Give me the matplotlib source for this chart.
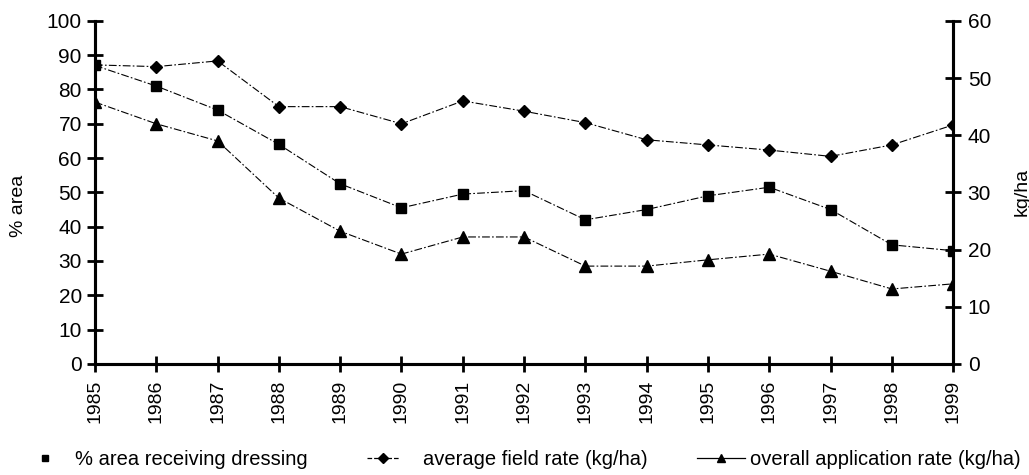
import numpy as np
import matplotlib
matplotlib.use('Agg')
import matplotlib.pyplot as plt

plt.rcParams['font.family'] = ['Liberation Sans', 'DejaVu Sans']

# 年份
years = [1985, 1986, 1987, 1988, 1989, 1990, 1991, 1992,
         1993, 1994, 1995, 1996, 1997, 1998, 1999]
# % area receiving dressing (left axis)
pct_area = [87, 81, 74, 64, 52.5, 45.5, 49.5, 50.5,
            42, 45, 49, 51.5, 45, 34.7, 33]
# average field rate kg/ha (right axis)
field_rate = [52.3, 52, 53, 45, 45, 42, 46, 44.2,
              42.2, 39.2, 38.3, 37.4, 36.3, 38.3, 41.8]
# overall application rate kg/ha (right axis)
overall_rate = [45.8, 42, 39, 29, 23.2, 19.2, 22.2, 22.2,
                17.1, 17.1, 18.2, 19.2, 16.2, 13.1, 14]

fig = plt.figure(figsize=(10.29, 4.75), dpi=100)
ax = fig.add_axes([0.0923, 0.234, 0.834, 0.722])
ax2 = ax.twinx()

dash = (0, (7, 2, 1.5, 2))
ax.plot(years, pct_area, color='black', lw=0.8, linestyle=dash,
        marker='s', markersize=7)
ax2.plot(years, field_rate, color='black', lw=0.8, linestyle=dash,
         marker='D', markersize=6)
ax2.plot(years, overall_rate, color='black', lw=0.8, linestyle=dash,
         marker='^', markersize=8)

ax.set_xlim(1985, 1999)
ax.set_ylim(0, 100)
ax2.set_ylim(0, 60)
ax.set_xticks(years)
ax.set_xticklabels([str(y) for y in years], rotation=90, fontsize=14)
ax.set_yticks(np.arange(0, 101, 10))
ax2.set_yticks(np.arange(0, 61, 10))
ax.tick_params(axis='y', labelsize=15, direction='inout', length=11, width=2, pad=4)
ax.tick_params(axis='x', direction='inout', length=11, width=2, pad=6)
ax2.tick_params(axis='y', labelsize=15, direction='inout', length=11, width=2, pad=5)

for a in (ax, ax2):
    a.spines['top'].set_visible(False)
    for s in ('left', 'right', 'bottom'):
        a.spines[s].set_linewidth(2.2)

ax.set_ylabel('% area', fontsize=14)
ax2.set_ylabel('kg/ha', fontsize=14)
ax.yaxis.set_label_coords(-0.079, 0.46)
ax2.yaxis.set_label_coords(1.070, 0.50)

# 图例，三项分开放
h1 = plt.Line2D([], [], color='black', marker='s', linestyle='none', markersize=5)
h2 = plt.Line2D([], [], color='black', marker='D', linestyle='--', lw=0.9, markersize=5)
h3 = plt.Line2D([], [], color='black', marker='^', linestyle='-', lw=0.9, markersize=6)
legend_items = [
    (h1, '% area receiving dressing', 0.034, 1.0, 1.0),
    (h2, 'average field rate (kg/ha)', 0.357, 1.55, 1.2),
    (h3, 'overall application rate (kg/ha)', 0.677, 2.4, 0.25),
]
for h, label, x0, hl, pad in legend_items:
    fig.legend([h], [label], loc='center left', bbox_to_anchor=(x0, 0.032),
               frameon=False, fontsize=14.5, handlelength=hl, handletextpad=pad,
               borderpad=0, borderaxespad=0)

fig.savefig('out.png', dpi=100)
